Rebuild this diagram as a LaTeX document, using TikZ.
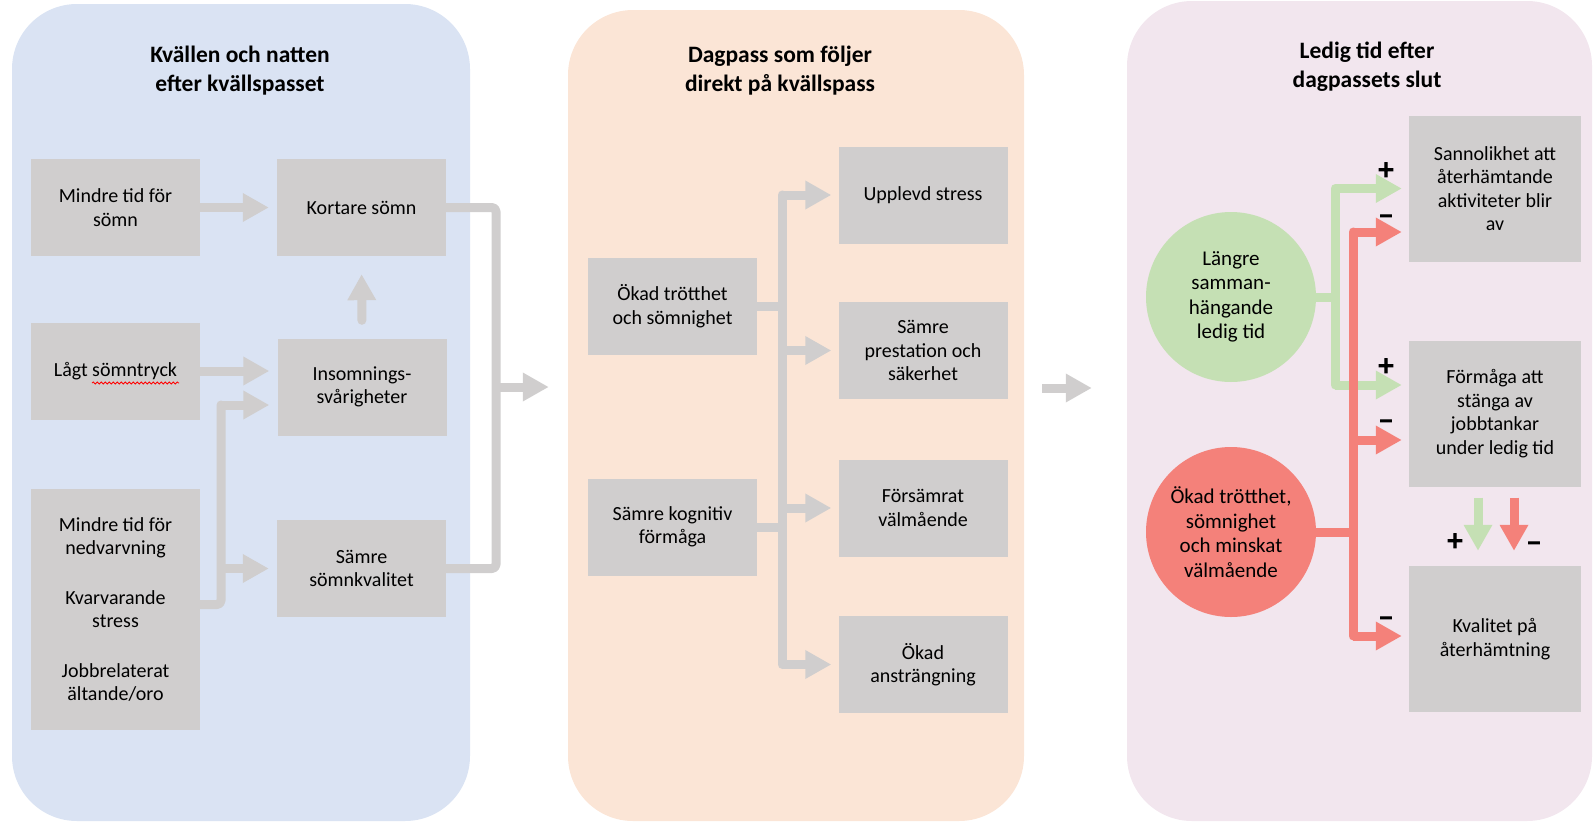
\documentclass[tikz,border=0pt]{standalone}
\usepackage{fontspec}
\setmainfont{Carlito}
\newfontfamily\signfont[FakeBold=4]{Carlito}
\usetikzlibrary{arrows.meta,decorations.pathmorphing}
\definecolor{bluebg}{HTML}{DAE3F3}
\definecolor{orangebg}{HTML}{FBE5D6}
\definecolor{pinkbg}{HTML}{F2E6EE}
\definecolor{boxgray}{HTML}{D0CECE}
\definecolor{linegray}{HTML}{D0CECE}
\definecolor{lightgreen}{HTML}{C5E0B4}
\definecolor{salmon}{HTML}{F4817A}
\begin{document}
\begin{tikzpicture}[x=1pt,y=-1pt]
\tikzstyle{every node}+=[inner sep=0pt]
\tikzstyle{panel}=[rounded corners=65pt]
\tikzstyle{title}=[align=center,font=\fontsize{23.5}{29}\selectfont\bfseries]
\tikzstyle{box}=[fill=boxgray,minimum width=169,minimum height=97,align=center,font=\fontsize{20}{23.5}\selectfont]
\tikzstyle{bigbox}=[box,minimum width=172,minimum height=146]
\tikzstyle{circ}=[circle,minimum size=170,align=center,font=\fontsize{21}{24.5}\selectfont]
\tikzstyle{sign}=[font=\signfont\fontsize{30}{30}\selectfont]
\tikzstyle{grayline}=[draw=linegray,line width=9pt,line cap=round,line join=round]
\tikzstyle{grayarrow}=[draw=linegray,line width=9pt,-{Triangle[width=27pt,length=26pt]},shorten >=8pt]
\tikzstyle{greenline}=[draw=lightgreen,line width=9pt,line cap=round,line join=round]
\tikzstyle{greenarrow}=[draw=lightgreen,line width=9pt,-{Triangle[width=27pt,length=26pt]},shorten >=7pt]
\tikzstyle{redline}=[draw=salmon,line width=9pt,line cap=round,line join=round]
\tikzstyle{redarrow}=[draw=salmon,line width=9pt,-{Triangle[width=27pt,length=26pt]},shorten >=7pt]
\useasboundingbox (0,0) rectangle (1593,822);
\node[panel,fill=bluebg,minimum width=458,minimum height=817] (kvall) at (241,412.5) {};
\node[panel,fill=orangebg,minimum width=456,minimum height=811] (dagpass) at (796,415.5) {};
\node[panel,fill=pinkbg,minimum width=465,minimum height=820] (ledig) at (1359.5,411) {};
\node[title] (t1) at (240,71) {Kvällen och natten\\efter kvällspasset};
\node[title] (t2) at (780,71) {Dagpass som följer\\direkt på kvällspass};
\node[title] (t3) at (1367,67) {Ledig tid efter\\dagpassets slut};
\node[box] (mindre) at (115.5,207.5) {Mindre tid för\\sömn};
\node[box] (kortare) at (361.5,207.5) {Kortare sömn};
\node[box] (lagt) at (115.5,371) {Lågt sömntryck};
\node[box] (insomn) at (362,387) {Insomnings-\\svårigheter};
\node[box,minimum height=241] (ned) at (115.5,609.5) {Mindre tid för\\nedvarvning\\[26pt]Kvarvarande\\stress\\[26pt]Jobbrelaterat\\ältande/oro};
\node[box] (samre) at (361.5,568.5) {Sämre\\sömnkvalitet};
\draw[red,line width=0.8pt,decorate,decoration={snake,amplitude=1pt,segment length=4pt}] (92,383) -- (179,383);
\node[box] (trott) at (672.5,306) {Ökad trötthet\\och sömnighet};
\node[box] (kogn) at (672.5,527) {Sämre kognitiv\\förmåga};
\node[box] (upplevd) at (923,195) {Upplevd stress};
\node[box] (prestation) at (923,350.5) {Sämre\\prestation och\\säkerhet};
\node[box] (forsamrat) at (923,508) {Försämrat\\välmående};
\node[box] (anstr) at (923,664.5) {Ökad\\ansträngning};
\node[bigbox] (sann) at (1495,188.5) {Sannolikhet att\\återhämtande\\aktiviteter blir\\av};
\node[bigbox] (formaga) at (1495,413.5) {Förmåga att\\stänga av\\jobbtankar\\under ledig tid};
\node[bigbox] (kvalitet) at (1495,639) {Kvalitet på\\återhämtning};
\node[circ,fill=lightgreen] (langre) at (1231,297) {Längre\\samman-\\hängande\\ledig tid};
\node[circ,fill=salmon] (okad) at (1231,532) {Ökad trötthet,\\sömnighet\\och minskat\\välmående};
\draw[grayarrow] (mindre.east) -- (kortare.west);
\draw[grayarrow,line cap=round,shorten <=18pt,shorten >=18pt] (insomn.north) -- (kortare.south);
\draw[grayarrow] (lagt.east) -- (lagt.east -| insomn.west);
\coordinate (j1) at (221,405);
\draw[grayline,rounded corners=4pt] ([yshift=5pt]ned.east) -| (j1);
\draw[grayarrow] (j1) -- (j1 -| insomn.west);
\draw[grayarrow] (j1 |- samre.west) -- (samre.west);
\coordinate (v1) at (496,0);
\draw[grayline,rounded corners=4pt] (kortare.east) -| (v1 |- samre.east) -- (samre.east);
\coordinate (m1) at (496,387);
\draw[grayarrow,shorten >=19pt] (m1) -- (m1 -| dagpass.west);
\coordinate (v2) at (782,0);
\draw[grayline] (upplevd.west -| v2) -- (anstr.west -| v2);
\draw[grayline] (trott.east) -- (trott.east -| v2);
\draw[grayline] (kogn.east) -- (kogn.east -| v2);
\foreach \n in {upplevd,prestation,forsamrat,anstr}
  \draw[grayarrow,shorten >=7pt] (\n.west -| v2) -- (\n.west);
\coordinate (m2) at (1024,388);
\draw[grayarrow,shorten <=18pt,shorten >=35pt] (m2) -- (m2 -| ledig.west);
\coordinate (g) at (1335,0);
\coordinate (r) at (1353,0);
\coordinate (sannG) at (sann.west);
\coordinate (formG) at ([yshift=28.5pt]formaga.west);
\coordinate (sannR) at ([yshift=-43.5pt]sann.west);
\coordinate (formR) at ([yshift=-26.5pt]formaga.west);
\coordinate (kvalR) at ([yshift=3pt]kvalitet.west);
\draw[greenline] (langre.east) -- (langre.east -| g);
\draw[greenline] (g |- sannG) -- (g |- formG);
\draw[greenarrow] (g |- sannG) -- (sannG);
\draw[greenarrow] (g |- formG) -- (formG);
\draw[redline] (okad.east) -- (okad.east -| r);
\draw[redline] (r |- sannR) -- (r |- kvalR);
\draw[redarrow] (r |- sannR) -- (sannR);
\draw[redarrow] (r |- formR) -- (formR);
\draw[redarrow] (r |- kvalR) -- (kvalR);
\draw[greenarrow,shorten <=11pt,shorten >=15pt] ([xshift=-17pt]formaga.south) -- ([xshift=-17pt]kvalitet.north);
\draw[redarrow,shorten <=11pt,shorten >=15pt] ([xshift=19pt]formaga.south) -- ([xshift=19pt]kvalitet.north);
\node[sign] (p1) at (1386,171) {+};
\node[sign] (n1) at (1386,216) {\vphantom{+}–};
\node[sign] (p2) at (1386,367) {+};
\node[sign] (n2) at (1386,421) {\vphantom{+}–};
\node[sign] (n3) at (1386,618) {\vphantom{+}–};
\node[sign] (p3) at (1455,542) {+};
\node[sign] (n4) at (1534,543) {\vphantom{+}–};
\end{tikzpicture}
\end{document}
